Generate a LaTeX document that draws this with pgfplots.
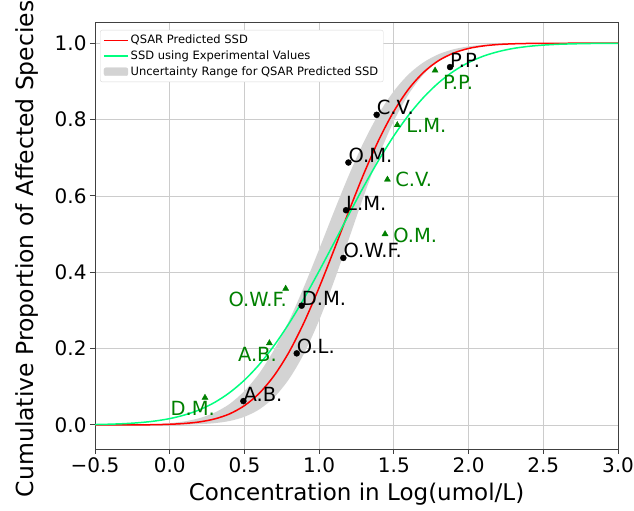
\documentclass[border=0pt]{standalone}
\usepackage{fontspec}
\setmainfont{DejaVu Sans}
\usepackage{pgfplots}
\pgfplotsset{compat=1.18}
\usepgfplotslibrary{fillbetween}
\usetikzlibrary{calc}
\definecolor{qred}{HTML}{FF0000}
\definecolor{sgreen}{HTML}{00FF7F}
\definecolor{dgreen}{HTML}{008000}
\definecolor{bandgray}{HTML}{D3D3D3}
\definecolor{gridc}{HTML}{CCCCCC}
\newcommand{\lblfont}{\fontsize{19.5bp}{22bp}\selectfont}
\tikzset{
  blab/.style = {anchor=base west, inner sep=0pt, font=\lblfont, text=black},
  glab/.style = {anchor=base west, inner sep=0pt, font=\lblfont, text=dgreen},
  glabr/.style = {anchor=base east, inner sep=0pt, font=\lblfont, text=dgreen},
}
\begin{document}
\begin{tikzpicture}
\begin{axis}[
  width=523bp, height=426bp, scale only axis,
  xmin=-0.5, xmax=3.0, ymin=-0.063, ymax=1.053,
  xtick={-0.5,0,0.5,1,1.5,2,2.5,3},
  xticklabels={−0.5,0.0,0.5,1.0,1.5,2.0,2.5,3.0},
  ytick={0,0.2,0.4,0.6,0.8,1.0},
  yticklabels={0.0,0.2,0.4,0.6,0.8,1.0},
  tick label style={font=\fontsize{20bp}{20bp}\selectfont},
  grid=major, major grid style={gridc, line width=0.8bp},
  axis line style={black!75, line width=1bp},
  tick style={black!75, line width=1bp}, major tick length=5bp,
  tick align=outside, tick pos=left,
  xlabel={Concentration in Log(umol/L)},
  ylabel={Cumulative Proportion of Affected Species},
  every axis x label/.style={at={(rel axis cs:0.5,-0.12)}, anchor=base,
    font=\fontsize{23bp}{26bp}\selectfont},
  every axis y label/.style={at={(rel axis cs:-0.13,0.47)}, rotate=90, anchor=center,
    font=\fontsize{23.5bp}{26bp}\selectfont},
  legend cell align=left,
  legend style={at={(rel axis cs:0.0096,0.9836)}, anchor=north west,
    draw=gray!30, rounded corners=2bp, fill=white,
    font=\fontsize{11.5bp}{14bp}\selectfont, row sep=1.5bp,
    inner xsep=3bp, inner ysep=3bp},
  legend image code/.code={\draw[#1] (0bp,0bp) -- (24bp,0bp);},
]
% uncertainty band edges
\addplot[name path=L, draw=none, smooth, forget plot] coordinates {
 (-0.5,0.0001)(-0.4,0.0002)(-0.3,0.0004)(-0.2,0.0010)(-0.1,0.0022)(0.0,0.0047)
 (0.1,0.0094)(0.2,0.0179)(0.3,0.0323)(0.4,0.0548)(0.5,0.0888)(0.6,0.1357)
 (0.7,0.1980)(0.8,0.2743)(0.9,0.3633)(1.0,0.4602)(1.1,0.5596)(1.2,0.6554)
 (1.3,0.7422)(1.4,0.8159)(1.5,0.8746)(1.6,0.9192)(1.7,0.9503)(1.8,0.9713)
 (1.9,0.9842)(2.0,0.9918)(2.1,0.9960)(2.2,0.9981)(2.3,0.9992)(2.4,0.9997)
 (2.5,0.9999)(2.6,1.0)(3.0,1.0)};
\addplot[name path=R, draw=none, smooth, forget plot] coordinates {
 (-0.5,0.0)(0.0,0.0003)(0.1,0.0008)(0.2,0.0020)(0.3,0.0047)(0.4,0.0103)
 (0.5,0.0214)(0.6,0.0409)(0.7,0.0728)(0.8,0.1211)(0.9,0.1880)(1.0,0.2743)
 (1.1,0.3768)(1.2,0.4885)(1.3,0.6013)(1.4,0.7062)(1.5,0.7962)(1.6,0.8672)
 (1.7,0.9192)(1.8,0.9540)(1.9,0.9755)(2.0,0.9879)(2.1,0.9944)(2.2,0.9976)
 (2.3,0.9991)(2.4,0.9997)(2.5,0.9999)(2.6,1.0)(3.0,1.0)};
\addplot[bandgray, forget plot] fill between[of=L and R];
% QSAR predicted SSD
\addplot[qred, line width=1.5bp, smooth] coordinates {
 (-0.5,0.0000)(-0.4,0.0000)(-0.3,0.0001)(-0.2,0.0003)(-0.1,0.0007)(0.0,0.0018)
 (0.1,0.0039)(0.2,0.0080)(0.3,0.0157)(0.4,0.0289)(0.5,0.0506)(0.6,0.0832)
 (0.7,0.1299)(0.8,0.1919)(0.9,0.2695)(1.0,0.3600)(1.1,0.4590)(1.2,0.5611)
 (1.3,0.6590)(1.4,0.7473)(1.5,0.8217)(1.6,0.8806)(1.7,0.9242)(1.8,0.9546)
 (1.9,0.9742)(2.0,0.9863)(2.1,0.9930)(2.2,0.9967)(2.3,0.9985)(2.4,0.9994)
 (2.5,0.9998)(2.6,0.9999)(2.8,1.0)(3.0,1.0)};
\addlegendentry{QSAR Predicted SSD}
% SSD from experimental values
\addplot[sgreen, line width=1.5bp, smooth] coordinates {
 (-0.5,0.0011)(-0.4,0.0020)(-0.3,0.0035)(-0.2,0.0061)(-0.1,0.0102)(0.0,0.0166)
 (0.1,0.0262)(0.2,0.0398)(0.3,0.0589)(0.4,0.0845)(0.5,0.1174)(0.6,0.1587)
 (0.7,0.2088)(0.8,0.2669)(0.9,0.3323)(1.0,0.4033)(1.1,0.4773)(1.2,0.5524)
 (1.3,0.6258)(1.4,0.6946)(1.5,0.7574)(1.6,0.8123)(1.7,0.8586)(1.8,0.8966)
 (1.9,0.9266)(2.0,0.9495)(2.1,0.9663)(2.2,0.9781)(2.3,0.9864)(2.4,0.9917)
 (2.5,0.9951)(2.6,0.9972)(2.7,0.9984)(2.8,0.9992)(2.9,0.9996)(3.0,0.9998)};
\addlegendentry{SSD using Experimental Values}
\addlegendimage{legend image code/.code={\fill[bandgray] (0bp,-4bp) rectangle (24bp,4bp);}}
\addlegendentry{Uncertainty Range for QSAR Predicted SSD}
% QSAR points
\addplot[only marks, mark=*, mark size=3bp, black, forget plot] coordinates {
 (0.493,0.0625)(0.850,0.1875)(0.883,0.3125)(1.162,0.4375)
 (1.180,0.5625)(1.196,0.6875)(1.385,0.8125)(1.876,0.9375)};
% experimental points
\addplot[only marks, mark=triangle*, mark size=3.5bp, dgreen, forget plot] coordinates {
 (0.236,0.0714)(0.667,0.2143)(0.776,0.3571)(1.441,0.5)
 (1.457,0.6429)(1.523,0.7857)(1.776,0.9286)};
% labels
\node[blab] at (axis cs:0.493,0.0625) {A.B.};
\node[blab] at (axis cs:0.850,0.1875) {O.L.};
\node[blab] at (axis cs:0.883,0.3125) {D.M.};
\node[blab] at (axis cs:1.162,0.4375) {O.W.F.};
\node[blab] at (axis cs:1.180,0.5625) {L.M.};
\node[blab] at (axis cs:1.196,0.6875) {O.M.};
\node[blab] at (axis cs:1.385,0.8125) {C.V.};
\node[blab] at (axis cs:1.876,0.9375) {P.P.};
\node[glabr] at (axis cs:0.303,0.0236) {D.M.};
\node[glabr] at (axis cs:0.718,0.165) {A.B.};
\node[glabr] at (axis cs:0.785,0.309) {O.W.F.};
\node[glab] at (axis cs:1.495,0.479) {O.M.};
\node[glab] at (axis cs:1.508,0.6235) {C.V.};
\node[glab] at (axis cs:1.582,0.765) {L.M.};
\node[glab] at (axis cs:1.829,0.878) {P.P.};
\end{axis}
\pgfresetboundingbox
\path ($(current axis.south west)+(-95bp,-62bp)$) rectangle ($(current axis.north east)+(16bp,23bp)$);
\end{tikzpicture}
\end{document}
